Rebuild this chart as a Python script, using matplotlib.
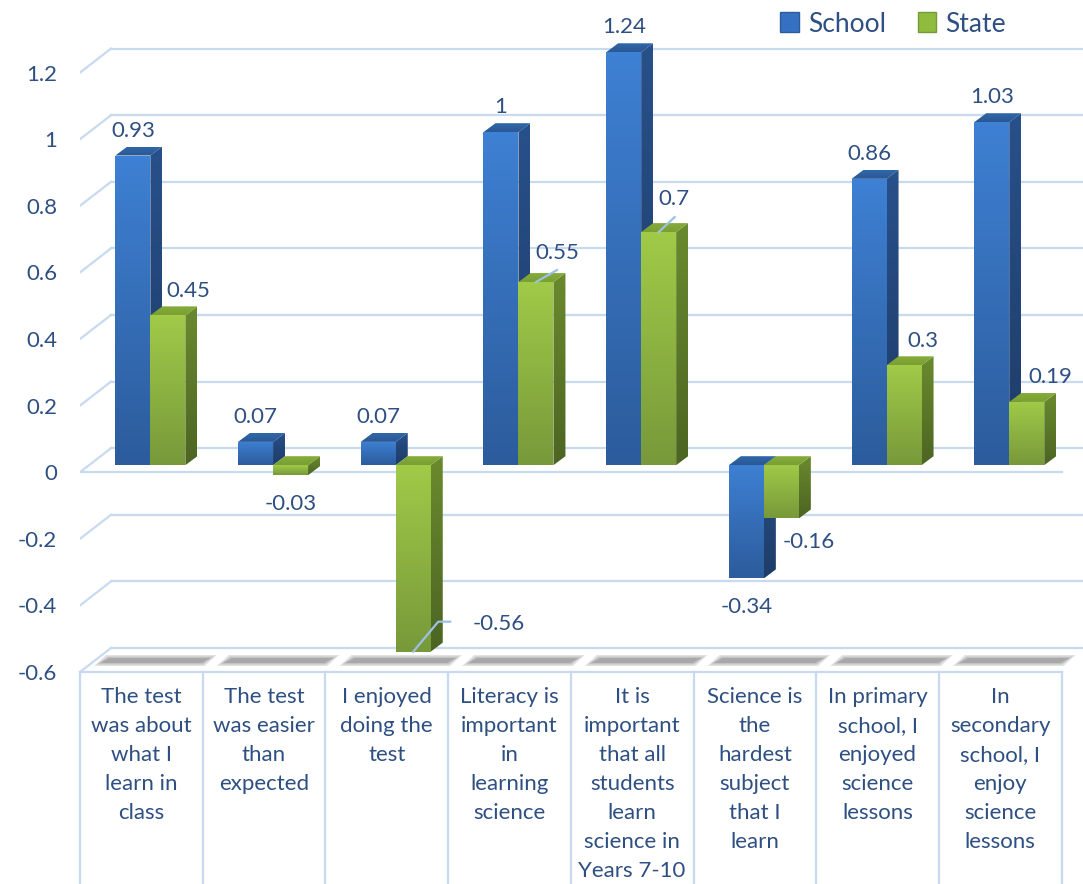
import numpy as np
import matplotlib
matplotlib.use("Agg")
import matplotlib.pyplot as plt
from matplotlib.patches import Polygon, Patch
from matplotlib.colors import LinearSegmentedColormap

# data
categories = [
    "The test\nwas about\nwhat I\nlearn in\nclass",
    "The test\nwas easier\nthan\nexpected",
    "I enjoyed\ndoing the\ntest",
    "Literacy is\nimportant\nin\nlearning\nscience",
    "It is\nimportant\nthat all\nstudents\nlearn\nscience in\nYears 7-10",
    "Science is\nthe\nhardest\nsubject\nthat I\nlearn",
    "In primary\nschool, I\nenjoyed\nscience\nlessons",
    "In\nsecondary\nschool, I\nenjoy\nscience\nlessons",
]
school = [0.93, 0.07, 0.07, 1.0, 1.24, -0.34, 0.86, 1.03]
state = [0.45, -0.03, -0.56, 0.55, 0.7, -0.16, 0.3, 0.19]
yticks = [-0.6, -0.4, -0.2, 0, 0.2, 0.4, 0.6, 0.8, 1, 1.2]
ytick_labels = ["-0.6", "-0.4", "-0.2", "0", "0.2", "0.4", "0.6", "0.8", "1", "1.2"]

plt.rcParams['font.family'] = ['Lato', 'DejaVu Sans']
TXT = '#2E4F82'
GRID = '#C8DAF0'
FS = 16

fig = plt.figure(figsize=(10.83, 8.84), dpi=100)
W, H = 1083, 884
# axes spans x 80..1083 px and y 0..672 px (from top)
ax = fig.add_axes([80 / W, (H - 672) / H, 1003 / W, 672 / H])
xmin, xmax = -0.5, -0.5 + 1003 / 122.7
ymin, ymax = -0.6, -0.6 + 672 / 333.0
PXX = (xmax - xmin) / 1003.0
PXY = (ymax - ymin) / 672.0

# depth offsets (3d look)
wall_dx, wall_dy = 31 * PXX, 24 * PXY
bar_sx, bar_sy = 9 * PXX, 7 * PXY
bar_dx, bar_dy = 12 * PXX, 9 * PXY
bw = 35 * PXX

grad = np.linspace(0, 1, 64).reshape(-1, 1)


def shade(pts, c_top, c_bot, z):
    poly = Polygon(pts, closed=True, facecolor='none', edgecolor='none', zorder=z)
    ax.add_patch(poly)
    xs = [p[0] for p in pts]
    ys = [p[1] for p in pts]
    cmap = LinearSegmentedColormap.from_list('g', [c_top, c_bot])
    im = ax.imshow(grad, cmap=cmap, extent=(min(xs), max(xs), min(ys), max(ys)),
                   origin='upper', aspect='auto', interpolation='bilinear', zorder=z)
    im.set_clip_path(poly)


def bar3d(x0, v, front, side, top, z):
    x1 = x0 + bw
    lo = min(0, v) + bar_sy
    hi = max(0, v) + bar_sy
    shade([(x1, lo), (x1 + bar_dx, lo + bar_dy), (x1 + bar_dx, hi + bar_dy), (x1, hi)],
          side[0], side[1], z)
    shade([(x0, hi), (x0 + bar_dx, hi + bar_dy), (x1 + bar_dx, hi + bar_dy), (x1, hi)],
          top[0], top[1], z)
    shade([(x0, lo), (x1, lo), (x1, hi), (x0, hi)], front[0], front[1], z + 0.1)
    return lo, hi


# walls: gridlines on the back plane with diagonals to the front
for t in yticks:
    if t == -0.6:
        continue
    ax.plot([xmin + wall_dx, xmax], [t + wall_dy, t + wall_dy], color=GRID, lw=1.6, zorder=1)
    ax.plot([xmin, xmin + wall_dx], [t, t + wall_dy], color=GRID, lw=1.6, zorder=1)
# front zero line
ax.plot([xmin, 7.5], [0, 0], color=GRID, lw=1.6, zorder=1)

# floor
ax.plot([xmin + wall_dx, xmax], [-0.6 + wall_dy, -0.6 + wall_dy], color=GRID, lw=1.6,
        zorder=1, clip_on=False)
ax.plot([xmin, xmin + wall_dx], [-0.6, -0.6 + wall_dy], color=GRID, lw=1.6, zorder=1, clip_on=False)
for i in range(len(categories)):
    cl, cr = i - 0.5, i + 0.5
    # soft grey floor shadow, built from a few translucent layers
    for k, a in [(0, 0.25), (1.5, 0.35), (3, 0.5)]:
        yb, yt = -0.6 + (6 + k) * PXY, -0.6 + (17 - k) * PXY
        ax.add_patch(Polygon([(cl + (14 + 2 * k) * PXX, yb), (cr + (2 - k) * PXX, yb),
                              (cr + (14 - 2 * k) * PXX, yt), (cl + (26 + k) * PXX, yt)],
                             closed=True, facecolor='#8E8E8E', edgecolor='none',
                             alpha=a, zorder=1.5))

# category table under the chart
ybottom = ymin - 212 * PXY
ax.plot([xmin, 7.5], [-0.6, -0.6], color=GRID, lw=1.6, clip_on=False, zorder=1)
for i in range(len(categories) + 1):
    ax.plot([i - 0.5, i - 0.5], [-0.6, ybottom], color=GRID, lw=1.6, clip_on=False, zorder=1)
for i, lab in enumerate(categories):
    ax.text(i, -0.6 - 15 * PXY, lab, ha='center', va='top', fontsize=FS, color=TXT,
            linespacing=1.56, clip_on=False)

blue_front = ('#3E80D3', '#2C5C9C')
blue_side = ('#28508A', '#1E3C68')
blue_top = ('#3167AA', '#2A5893')
green_front = ('#A0CA48', '#78993A')
green_side = ('#6A8A2E', '#4C6522')
green_top = ('#86AC3A', '#78A033')

# label offsets for the State series in pixels (dx, dy from bar end)
state_nudge = [(20, 24), (0, -29), (85, 28), (21, 29), (15, 33), (27, -24), (19, 24), (24, 25)]
leaders = {2: [(0, 0), (25, 30), (37, 30)], 3: [(0, 0), (21, 12)], 4: [(0, 0), (16, 15)]}

for i in range(len(categories)):
    mid = i + bar_sx
    lo, hi = bar3d(mid - bw, school[i], blue_front, blue_side, blue_top, 2 + i)
    cx = mid - bw / 2
    if school[i] >= 0:
        ax.text(cx, hi + 25 * PXY, f"{school[i]:g}", ha='center', va='center',
                fontsize=FS, color=TXT, zorder=10)
    else:
        ax.text(cx, lo - 29 * PXY, f"{school[i]:g}", ha='center', va='center',
                fontsize=FS, color=TXT, zorder=10)

    lo, hi = bar3d(mid, state[i], green_front, green_side, green_top, 2.5 + i)
    cx = mid + bw / 2
    ay = hi if state[i] >= 0 else lo
    ndx, ndy = state_nudge[i]
    ax.text(cx + ndx * PXX, ay + ndy * PXY, f"{state[i]:g}", ha='center', va='center',
            fontsize=FS, color=TXT, zorder=10)
    if i in leaders:
        pts = leaders[i]
        ax.plot([cx + p[0] * PXX for p in pts], [ay + p[1] * PXY for p in pts],
                color='#9DC0E6', lw=1.6, zorder=12)

ax.set_xlim(xmin, xmax)
ax.set_ylim(ymin, ymax)
ax.set_yticks(yticks)
ax.set_yticklabels(ytick_labels)
ax.set_xticks([])
ax.tick_params(axis='y', length=0, pad=16.5, labelsize=FS, labelcolor=TXT)
for s in ax.spines.values():
    s.set_visible(False)
ax.patch.set_alpha(0)

handles = [Patch(facecolor='#3570C2', edgecolor='#2C5C9C', label='School'),
           Patch(facecolor='#8FBC3E', edgecolor='#78993A', label='State')]
fig.legend(handles=handles, loc='center', bbox_to_anchor=(893 / W, 1 - 24 / H), ncol=2,
           frameon=False, fontsize=19, labelcolor=TXT, handlelength=0.7, handleheight=0.8,
           handletextpad=0.35, columnspacing=1.2)

fig.savefig('out.png', dpi=100)
